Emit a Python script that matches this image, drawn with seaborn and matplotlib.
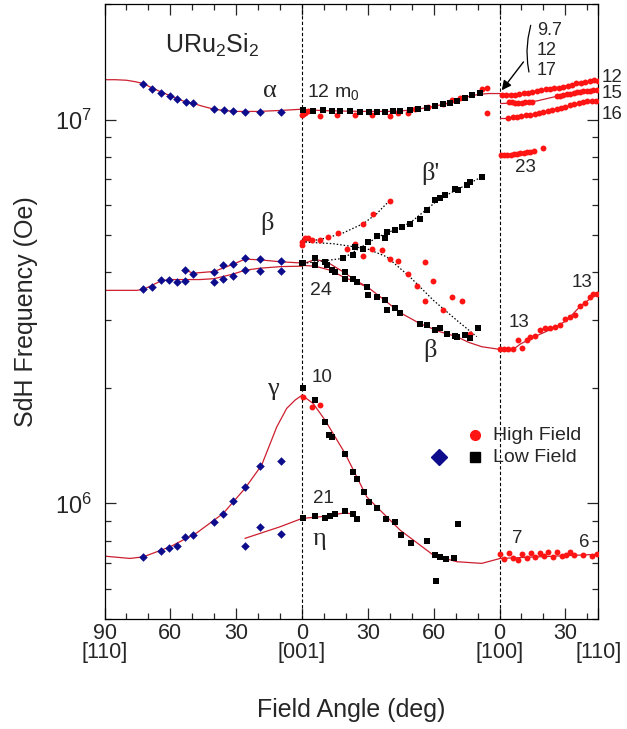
import matplotlib
matplotlib.use("Agg")
import matplotlib.pyplot as plt
from matplotlib.ticker import FixedLocator, NullFormatter, LogLocator
import numpy as np
import pandas as pd
import seaborn as sns

# ---------------- data ----------------
# x = position along the field-rotation path (deg):
#   0..90   : [110] -> [001]  (label 90 - x)
#   90..180 : [001] -> [100]  (label x - 90)
#   180..225: [100] -> [110]  (label x - 180)
# frequencies in units of 1e6 Oe

alpha_blue_x = [17.7, 21.5, 25.8, 29.9, 33.2, 37.0, 40.3, 49.9, 54.3, 58.6, 64.2, 70.7, 80.4]
alpha_blue_f = [12.41, 12.04, 11.76, 11.52, 11.30, 11.11, 11.05, 10.64, 10.57, 10.53, 10.49, 10.49, 10.49]
alpha_line_left_x = [0, 5, 10, 14, 17.7, 21.5, 25.8, 29.9, 33.2, 37, 40.3, 45, 49.9, 55, 60, 70, 80, 90]
alpha_line_left_f = [12.70, 12.70, 12.66, 12.55, 12.41, 12.10, 11.80, 11.54, 11.32, 11.12, 11.02, 10.82, 10.64, 10.55, 10.50, 10.50, 10.56, 10.64]

alpha_mid_black_x = [90.3, 95.2, 99.7, 103.6, 107.3, 111.9, 116.4, 120.3, 124.1, 127.9, 131.6, 134.7, 139.3, 143.0, 146.9, 150.6, 154.4, 157.5, 160.5, 164.3, 167.4, 171.1]
alpha_mid_black_f = [10.62, 10.55, 10.57, 10.53, 10.55, 10.51, 10.49, 10.49, 10.47, 10.49, 10.51, 10.53, 10.59, 10.66, 10.72, 10.83, 10.96, 11.07, 11.21, 11.41, 11.57, 11.73]
alpha_mid_red_x = [89.9, 90.5, 91.4, 92.9, 98.2, 105.8, 114.2, 121.8, 130.1, 133.9, 138.5, 141.5, 147.6, 154.4, 158.2, 162.0, 171.9, 174.2, 174.2]
alpha_mid_red_f = [10.26, 10.35, 10.40, 10.53, 10.22, 10.30, 10.26, 10.26, 10.20, 10.40, 10.40, 10.68, 10.78, 11.01, 11.23, 11.38, 12.04, 12.11, 10.43]
alpha_mid_line_x = [90, 100, 110, 120, 130, 135, 140, 145, 150, 155, 160, 165, 170, 175, 180]
alpha_mid_line_f = [10.62, 10.55, 10.52, 10.50, 10.50, 10.53, 10.60, 10.70, 10.82, 10.98, 11.20, 11.45, 11.62, 11.69, 11.69]

a12_x = [181, 183, 185, 187, 189, 191, 193, 195, 197, 199, 201, 203, 205, 207, 209, 211, 213, 215, 217, 219, 221, 223, 225]
a12_f = [11.62, 11.62, 11.60, 11.60, 11.65, 11.70, 11.76, 11.80, 11.86, 11.92, 11.98, 12.04, 12.08, 12.12, 12.18, 12.26, 12.34, 12.42, 12.48, 12.53, 12.62, 12.66, 12.60]
a12_line_x = [180, 186, 192, 200, 210, 218, 225]
a12_line_f = [11.69, 11.61, 11.72, 11.95, 12.22, 12.50, 12.62]
a15_x = [184.1, 185.6, 187.1, 188.6, 190.2, 191.7, 193.2, 194.7, 206.1, 207.6, 209.1, 210.7, 212.2, 213.7, 215.2, 216.7, 218.2, 219.8, 221.3, 222.8, 224.3]
a15_f = [11.11, 11.09, 11.07, 11.07, 11.07, 11.09, 11.11, 11.14, 11.50, 11.55, 11.59, 11.64, 11.69, 11.73, 11.78, 11.80, 11.85, 11.87, 11.90, 11.92, 11.92]
a15_line_x = [180.5, 190.9, 197, 206.1, 215.2, 225]
a15_line_f = [11.01, 11.07, 11.18, 11.50, 11.78, 11.93]
a16_x = [184, 186, 188, 190, 192, 194, 196, 198, 200, 202, 204, 206, 208, 210, 212, 214, 216, 218, 220, 222, 224]
a16_f = [10.12, 10.14, 10.16, 10.20, 10.26, 10.30, 10.34, 10.40, 10.47, 10.53, 10.60, 10.67, 10.74, 10.81, 10.88, 10.96, 11.03, 11.10, 11.15, 11.18, 11.18]
a16_line_x = [180, 184]
a16_line_f = [10.12, 10.12]
f23_x = [180.5, 182, 183.5, 185, 186.5, 188, 189.5, 191, 192.5, 194, 195.5, 200]
f23_f = [8.07, 8.07, 8.08, 8.10, 8.12, 8.14, 8.16, 8.19, 8.22, 8.25, 8.28, 8.45]

beta_lo_blue_x = [17.7, 21.5, 25.8, 29.5, 33.2, 36.7, 49.9, 54.1, 58.7, 64.0, 70.9, 80.4]
beta_lo_blue_f = [3.61, 3.66, 3.83, 3.82, 3.77, 3.80, 3.77, 3.85, 3.91, 4.05, 4.03, 4.04]
beta_up_blue_x = [36.7, 40.5, 49.9, 54.1, 58.7, 64.0, 70.9, 80.4]
beta_up_blue_f = [4.05, 3.96, 4.00, 4.17, 4.20, 4.35, 4.32, 4.27]
beta_lo_line_x = [0, 14.7, 17.7, 25.8, 29.9, 36.7, 43.5, 49.9, 58.7, 64, 70.9, 80.4, 90]
beta_lo_line_f = [3.59, 3.59, 3.61, 3.80, 3.83, 3.83, 3.83, 3.85, 3.96, 4.05, 4.10, 4.14, 4.15]
beta_up_line_x = [36.7, 40.5, 49.9, 58.7, 64, 70.9, 80.4, 90]
beta_up_line_f = [4.05, 3.98, 4.02, 4.20, 4.33, 4.31, 4.26, 4.23]

beta_fall_black_x = [90.1, 90.6, 95.9, 95.9, 100.5, 101.3, 103.6, 105.1, 109.6, 109.6, 113.4, 114.9, 119.5, 120.2, 124.1, 127.8, 128.6, 132.4, 134.7, 143.8, 146.9, 150.6, 152.9, 156.0, 159.8, 160.5, 164.3, 166.6, 170.4]
beta_fall_black_f = [4.23, 4.22, 4.35, 4.18, 4.26, 4.18, 4.05, 4.01, 4.01, 3.85, 3.85, 3.78, 3.66, 3.49, 3.45, 3.38, 3.19, 3.22, 3.13, 2.94, 2.91, 2.83, 2.86, 2.77, 2.73, 2.72, 2.74, 2.69, 2.86]
beta_rise_black_x = [108.8, 113.4, 114.2, 118.0, 120.2, 124.1, 127.8, 128.6, 132.4, 135.5, 139.2, 143.8, 146.9, 150.6, 152.9, 155.2, 159.8, 161.3, 165.1, 166.6, 171.9]
beta_rise_black_f = [4.35, 4.43, 4.66, 4.59, 4.80, 4.97, 4.90, 5.10, 5.15, 5.25, 5.36, 5.52, 5.81, 6.17, 6.23, 6.35, 6.61, 6.54, 6.74, 6.88, 7.09]
beta_rise_red_x = [89.9, 89.9, 91.4, 92.9, 94.4, 98.2, 102.0, 106.6, 118.0, 122.5, 130.1]
beta_rise_red_f = [4.71, 4.80, 4.90, 4.90, 4.85, 4.85, 4.95, 5.07, 5.34, 5.69, 6.14]
beta_fall_red_x = [110.4, 114.2, 118.0, 121.8, 126.3, 130.1, 133.9, 138.5, 142.3, 146.1, 146.1, 149.9, 154.4, 158.2, 162.8, 166.6]
beta_fall_red_f = [4.59, 4.73, 4.41, 4.61, 4.57, 4.32, 4.28, 3.95, 3.68, 4.26, 3.36, 3.79, 3.20, 3.45, 3.37, 2.77]
beta_mid_up_line_x = [90, 95.9, 101.3, 108.8, 114.2, 120.2, 128.6, 134.7, 143.8, 152.9, 160.5, 165.8, 171.9, 180]
beta_mid_up_line_f = [4.20, 4.32, 4.26, 4.01, 3.82, 3.65, 3.35, 3.14, 2.94, 2.80, 2.72, 2.63, 2.56, 2.52]
beta_mid_lo_line_x = [90, 95.9, 103, 108.8, 114.2, 120.2]
beta_mid_lo_line_f = [4.17, 4.15, 4.05, 3.89, 3.78, 3.65]
guide_red_rise_x = [89.9, 98.2, 107.9, 118, 124.1, 130.1]
guide_red_rise_f = [4.80, 4.87, 5.04, 5.36, 5.69, 6.17]
guide_red_fall_x = [89.9, 104.1, 119.5, 128.6, 139.2, 149.9, 160.5, 169.6]
guide_red_fall_f = [4.80, 4.75, 4.61, 4.39, 3.89, 3.38, 3.00, 2.72]
guide_black_rise_x = [90.6, 108.8, 124.1, 139.2, 152.9, 171.9]
guide_black_rise_f = [4.22, 4.35, 4.93, 5.38, 6.23, 7.09]

beta_right_x = [180.3, 182.1, 184.0, 186.3, 188.6, 190.2, 192.4, 193.9, 196.2, 198.5, 200.8, 203.1, 205.3, 207.6, 209.9, 212.2, 214.4, 216.7, 219.0, 221.0, 222.8, 224.3]
beta_right_f = [2.52, 2.52, 2.52, 2.52, 2.66, 2.54, 2.67, 2.71, 2.73, 2.83, 2.86, 2.86, 2.88, 2.91, 3.03, 3.06, 3.09, 3.27, 3.32, 3.45, 3.51, 3.52]
beta_right_line_x = [180.3, 186.3, 189.4, 195.4, 204.6, 210.7, 216.7, 224.3, 225]
beta_right_line_f = [2.52, 2.52, 2.60, 2.71, 2.86, 3.00, 3.26, 3.52, 3.53]

gamma_blue_x = [17.7, 25.8, 29.5, 33.2, 36.8, 40.5, 49.9, 54.1, 58.7, 64.0, 70.9, 80.4]
gamma_blue_f = [0.726, 0.751, 0.766, 0.774, 0.818, 0.827, 0.896, 0.938, 1.014, 1.101, 1.251, 1.291]
gamma_line_left_x = [0, 11.6, 17.7, 29.9, 42.0, 54.1, 64.0, 71.6, 78.5, 83.0, 86.8, 90]
gamma_line_left_f = [0.729, 0.719, 0.726, 0.771, 0.838, 0.942, 1.094, 1.258, 1.583, 1.768, 1.858, 1.914]
eta_blue_x = [64.0, 70.9, 80.4]
eta_blue_f = [0.774, 0.869, 0.832]
eta_line_left_x = [64.0, 79.9, 90]
eta_line_left_f = [0.811, 0.869, 0.914]
gamma_black_x = [90.3, 95.9, 100.5, 102.5, 103.8, 109.6, 113.4, 114.9, 118.3, 120.7, 124.1, 128.3, 132.4, 135.0, 139.6, 146.9, 150.6, 152.9, 155.5, 159.3, 161.3, 151.1]
gamma_black_f = [2.00, 1.858, 1.632, 1.506, 1.491, 1.344, 1.204, 1.155, 1.068, 1.010, 0.971, 0.910, 0.896, 0.827, 0.789, 0.799, 0.733, 0.726, 0.715, 0.719, 0.884, 0.629]
gamma_red_x = [90.6, 94.4, 98.2]
gamma_red_f = [1.894, 1.784, 1.810]
gamma_line_mid_x = [90, 95.1, 100.5, 109.6, 119.5, 134.7, 149.9, 160.5, 171.9, 180.3]
gamma_line_mid_f = [1.914, 1.821, 1.648, 1.350, 1.040, 0.852, 0.733, 0.705, 0.698, 0.719]
eta_black_x = [90.3, 95.9, 100.5, 102.8, 105.1, 109.6, 113.4, 114.9]
eta_black_f = [0.917, 0.928, 0.917, 0.928, 0.936, 0.956, 0.938, 0.910]
eta_line_mid_x = [90, 98.2, 109.6, 113.4]
eta_line_mid_f = [0.914, 0.923, 0.945, 0.938]
low_right_x = [180.3, 182.1, 184.4, 186.3, 188.2, 190.3, 192.4, 194.3, 196.2, 198.5, 200.3, 202.3, 204.3, 206.4, 208.4, 210.3, 212.2, 214.0, 218.0, 222.1, 224.3]
low_right_f = [0.737, 0.715, 0.741, 0.719, 0.711, 0.738, 0.719, 0.741, 0.726, 0.745, 0.729, 0.748, 0.726, 0.747, 0.729, 0.733, 0.748, 0.733, 0.733, 0.729, 0.737]
low_right_line_x = [180.3, 225]
low_right_line_f = [0.719, 0.737]

xtick_pos = [0, 30, 60, 90, 120, 150, 180, 210, 225]
xtick_labels = ["90\n[110]", "60", "30", "0\n[001]", "30", "60", "0\n[100]", "30", "\n[110]"]

# ---------------- style ----------------
sns.set_style("ticks")
plt.rcParams["font.family"] = ["Liberation Sans", "DejaVu Sans"]
plt.rcParams["font.sans-serif"] = ["Liberation Sans", "DejaVu Sans"]
plt.rcParams["mathtext.fontset"] = "custom"
plt.rcParams["mathtext.rm"] = "Liberation Sans"
plt.rcParams["mathtext.it"] = "Liberation Sans:italic"
plt.rcParams["mathtext.bf"] = "Liberation Sans:bold"
plt.rcParams["axes.linewidth"] = 0.9

RED = "#ff1414"
LINE_RED = "#cc1f2f"
BLUE = "#0c0c8c"
SERIF = ["Liberation Serif", "DejaVu Serif"]

fig = plt.figure(figsize=(6.27, 7.29), dpi=100)
ax = fig.add_axes([104.5 / 627, 1 - 619 / 729, 493.8 / 627, 615 / 729])
ax.set_yscale("log")

M = 1e6


def line(x, f, dotted=False):
    d = pd.DataFrame({"x": x, "y": np.asarray(f) * M})
    if dotted:
        sns.lineplot(data=d, x="x", y="y", sort=False, estimator=None, ax=ax,
                     color="black", lw=0.9, linestyle=(0, (1.2, 1.6)), zorder=2)
    else:
        sns.lineplot(data=d, x="x", y="y", sort=False, estimator=None, ax=ax,
                     color=LINE_RED, lw=0.9, zorder=2)


STY = {
    "high": dict(marker="o", color=RED, s=18),
    "low": dict(marker="s", color="black", s=16),
    "lowb": dict(marker="D", color=BLUE, s=19),
}


def dots(x, f, kind):
    d = pd.DataFrame({"x": x, "y": np.asarray(f) * M})
    sns.scatterplot(data=d, x="x", y="y", ax=ax, linewidth=0, zorder=3,
                    legend=False, **STY[kind])


# lines
for lx, lf in [(alpha_line_left_x, alpha_line_left_f), (alpha_mid_line_x, alpha_mid_line_f),
               (a12_line_x, a12_line_f), (a15_line_x, a15_line_f), (a16_line_x, a16_line_f),
               (beta_lo_line_x, beta_lo_line_f), (beta_up_line_x, beta_up_line_f),
               (beta_mid_up_line_x, beta_mid_up_line_f), (beta_mid_lo_line_x, beta_mid_lo_line_f),
               (beta_right_line_x, beta_right_line_f),
               (gamma_line_left_x, gamma_line_left_f), (eta_line_left_x, eta_line_left_f),
               (gamma_line_mid_x, gamma_line_mid_f), (eta_line_mid_x, eta_line_mid_f),
               (low_right_line_x, low_right_line_f)]:
    line(lx, lf)
for lx, lf in [(guide_red_rise_x, guide_red_rise_f), (guide_red_fall_x, guide_red_fall_f),
               (guide_black_rise_x, guide_black_rise_f)]:
    line(lx, lf, dotted=True)

# points
dots(alpha_blue_x, alpha_blue_f, "lowb")
dots(alpha_mid_red_x, alpha_mid_red_f, "high")
dots(alpha_mid_black_x, alpha_mid_black_f, "low")
dots(a12_x, a12_f, "high")
dots(a15_x, a15_f, "high")
dots(a16_x, a16_f, "high")
dots(f23_x, f23_f, "high")
dots(beta_lo_blue_x, beta_lo_blue_f, "lowb")
dots(beta_up_blue_x, beta_up_blue_f, "lowb")
dots(beta_rise_red_x, beta_rise_red_f, "high")
dots(beta_fall_red_x, beta_fall_red_f, "high")
dots(beta_fall_black_x, beta_fall_black_f, "low")
dots(beta_rise_black_x, beta_rise_black_f, "low")
dots(beta_right_x, beta_right_f, "high")
dots(gamma_blue_x, gamma_blue_f, "lowb")
dots(eta_blue_x, eta_blue_f, "lowb")
dots(gamma_red_x, gamma_red_f, "high")
dots(gamma_black_x, gamma_black_f, "low")
dots(eta_black_x, eta_black_f, "low")
dots(low_right_x, low_right_f, "high")

# vertical dashed lines at [001] and [100]
for xv in (90, 180):
    ax.axvline(xv, color="black", lw=0.8, linestyle=(0, (3, 2)), zorder=1)

# axes
ax.set_xlim(0, 225)
ax.set_ylim(5e5, 2e7)
ax.set_xticks(xtick_pos)
ax.set_xticklabels(xtick_labels, linespacing=0.85)
ax.xaxis.set_minor_locator(FixedLocator([v for v in range(10, 221, 10) if v % 30 != 0]))
ax.yaxis.set_major_locator(LogLocator(base=10))
ax.yaxis.set_minor_locator(LogLocator(base=10, subs=np.arange(2, 10)))
ax.yaxis.set_minor_formatter(NullFormatter())
ax.tick_params(which="both", direction="in", top=True, right=True, width=0.9)
ax.tick_params(which="major", length=8)
ax.tick_params(which="minor", length=4.5)
ax.tick_params(axis="x", which="major", labelsize=15.5, pad=3)
ax.tick_params(axis="y", which="major", labelsize=17, pad=9)
for s in ax.spines.values():
    s.set_visible(True)
    s.set_color("black")

ax.set_xlabel("Field Angle (deg)", fontsize=18)
ax.xaxis.set_label_coords(0.5, -0.128)
ax.set_ylabel("SdH Frequency (Oe)", fontsize=18)
ax.yaxis.set_label_coords(-0.135, 0.5)


# annotations
def txt(x, f, s, size=13.5, ha="left", family=None, **kw):
    ax.text(x, f * M, s, fontsize=size, ha=ha, va="baseline",
            family=family if family else ["Liberation Sans", "DejaVu Sans"], **kw)


txt(27.6, 14.9, "URu$_2$Si$_2$", size=18)
txt(75.4, 11.43, "\u03b1", size=19, ha="center", family=SERIF)
txt(92.2, 11.45, "12 m$_0$", size=14)
txt(197.0, 16.58, "9.7", size=13)
txt(197.0, 14.71, "12", size=13)
txt(197.0, 13.04, "17", size=13)
txt(226.6, 12.53, "12", size=13.5)
txt(226.6, 11.36, "15", size=13.5)
txt(226.6, 10.06, "16", size=13.5)
txt(187.1, 7.30, "23", size=13.5)
txt(148.6, 6.95, "\u03b2'", size=19, ha="center", family=SERIF)
txt(74.2, 5.15, "\u03b2", size=19, ha="center", family=SERIF)
txt(93.7, 3.49, "24", size=14)
txt(148.4, 2.41, "\u03b2", size=19, ha="center", family=SERIF)
txt(184.0, 2.88, "13", size=13.5)
txt(212.9, 3.66, "13", size=13.5)
txt(76.9, 1.914, "\u03b3", size=19, ha="center", family=SERIF)
txt(94.4, 2.07, "10", size=13.5)
txt(94.9, 1.00, "21", size=13.5)
txt(98.1, 0.779, "\u03b7", size=19, ha="center", family=SERIF)
txt(185.6, 0.787, "7", size=13.5)
txt(216.4, 0.771, "6", size=13.5)

# bracket and arrow for the 9.7 / 12 / 17 labels
ax.plot([194.2, 193.0, 192.5, 192.8, 193.4], np.array([17.6, 16.3, 15.1, 14.0, 13.3]) * M,
        color="black", lw=0.9)
ax.annotate("", xy=(181.0, 11.92 * M), xytext=(190.9, 14.13 * M),
            arrowprops=dict(arrowstyle="-|>", color="black", lw=1.0,
                            mutation_scale=14, shrinkA=0, shrinkB=0))

# legend (drawn manually)
ax.plot([0.750], [0.299], transform=ax.transAxes, marker="o", color=RED, ms=7, ls="none", clip_on=False)
ax.plot([0.678], [0.264], transform=ax.transAxes, marker="D", color=BLUE, ms=8, ls="none", clip_on=False)
ax.plot([0.750], [0.264], transform=ax.transAxes, marker="s", color="black", ms=6.5, ls="none", clip_on=False)
ax.text(0.787, 0.291, "High Field", transform=ax.transAxes, fontsize=14, va="baseline")
ax.text(0.787, 0.256, "Low Field", transform=ax.transAxes, fontsize=14, va="baseline")

fig.savefig("out.png", dpi=100)
